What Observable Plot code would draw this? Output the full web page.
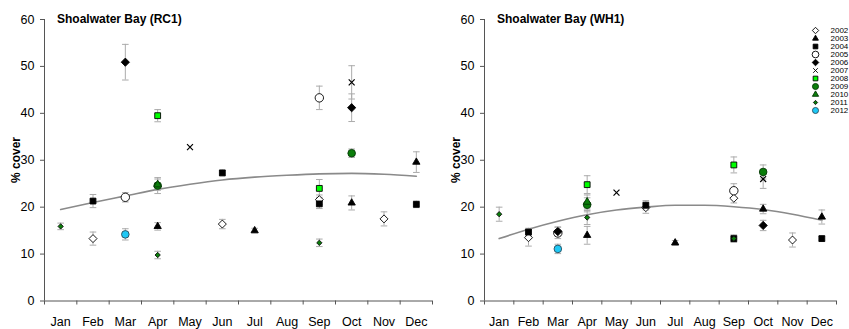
<!DOCTYPE html>
<html>
<head>
<meta charset="utf-8">
<script src="https://cdn.jsdelivr.net/npm/d3@7"></script>
<script src="https://cdn.jsdelivr.net/npm/@observablehq/plot@0.6"></script>
<style>
  html, body { margin: 0; padding: 0; background: #fff; overflow: hidden; }
  #wrap { position: relative; width: 849px; height: 329px; overflow: hidden; font-family: "Liberation Sans", Arial, sans-serif; }
  #wrap svg { position: absolute; top: 0; overflow: visible; }
  .title { position: absolute; top: 12px; font-weight: bold; font-size: 12px; color: #000; white-space: nowrap; }
  .ylab { position: absolute; font-weight: bold; font-size: 12px; color: #000; white-space: nowrap;
          transform: translate(-50%, -50%) rotate(-90deg); }
</style>
</head>
<body>
<div id="wrap">
  <div id="left"></div>
  <div id="right"></div>
  <div id="legend"></div>
  <div class="title" style="left:57px">Shoalwater Bay (RC1)</div>
  <div class="title" style="left:497px">Shoalwater Bay (WH1)</div>
  <div class="ylab" style="left:16px; top:160px">% cover</div>
  <div class="ylab" style="left:456px; top:160px">% cover</div>
</div>
<script>
// ---------- data ----------
const months = ["Jan","Feb","Mar","Apr","May","Jun","Jul","Aug","Sep","Oct","Nov","Dec"];
const years = ["2002","2003","2004","2005","2006","2007","2008","2009","2010","2011","2012"];
const yTicks = [0, 10, 20, 30, 40, 50, 60];

// [year, month, mean % cover, error]
const rc1 = [
  ["2011","Jan",15.9,0.7],
  ["2004","Feb",21.3,1.4], ["2002","Feb",13.3,1.4],
  ["2006","Mar",50.9,3.8], ["2005","Mar",22.1,1.0], ["2012","Mar",14.2,1.2],
  ["2008","Apr",39.5,1.3], ["2009","Apr",24.6,1.7], ["2010","Apr",24.8,1.2], ["2003","Apr",15.9,0.8], ["2011","Apr",9.8,0.8],
  ["2007","May",32.8,0],
  ["2004","Jun",27.3,0.6], ["2002","Jun",16.4,1.0],
  ["2003","Jul",15.0,0.5],
  ["2005","Sep",43.3,2.5], ["2008","Sep",24.0,1.9], ["2002","Sep",21.6,1.0], ["2004","Sep",20.7,1.0], ["2011","Sep",12.4,0.8],
  ["2007","Oct",46.6,3.55], ["2006","Oct",41.2,2.95], ["2009","Oct",31.5,0.9], ["2003","Oct",20.9,1.5],
  ["2002","Nov",17.5,1.5],
  ["2003","Dec",29.6,2.2], ["2004","Dec",20.6,0.7]
];
const wh1 = [
  ["2011","Jan",18.5,1.5],
  ["2004","Feb",14.7,0.8], ["2002","Feb",13.5,1.8],
  ["2005","Mar",14.5,1.2], ["2006","Mar",14.8,1.0], ["2012","Mar",11.1,1.0],
  ["2008","Apr",24.8,1.9], ["2009","Apr",20.5,1.5], ["2010","Apr",21.1,1.5], ["2011","Apr",17.8,1.5], ["2003","Apr",14.0,1.9],
  ["2007","May",23.1,0],
  ["2004","Jun",20.4,1.0], ["2002","Jun",19.9,1.2],
  ["2003","Jul",12.4,0.5],
  ["2008","Sep",29.0,1.7], ["2005","Sep",23.5,1.5], ["2002","Sep",21.9,1.0], ["2004","Sep",13.3,0.8], ["2011","Sep",13.3,0.6],
  ["2009","Oct",27.5,1.5], ["2007","Oct",26.0,2.0], ["2003","Oct",19.6,1.0], ["2006","Oct",16.1,1.1],
  ["2002","Nov",13.0,1.5],
  ["2003","Dec",17.9,1.5], ["2004","Dec",13.3,0.5]
];
// seasonal trend line, one value per month
const rc1Trend = [19.5, 21.0, 22.4, 23.8, 24.9, 25.8, 26.4, 26.8, 27.1, 27.2, 27.0, 26.6];
const wh1Trend = [13.3, 15.3, 17.0, 18.4, 19.4, 20.0, 20.4, 20.4, 20.1, 19.5, 18.5, 17.2];

// ---------- styles ----------
const DG = "#0a7d0a";
const style = {
  "2002": {symbol: "diamond2", fill: "white",   stroke: "black",   r: 3.6},
  "2003": {symbol: "triangle", fill: "black",   stroke: "black",   r: 2.7},
  "2004": {symbol: "square",   fill: "black",   stroke: "black",   r: 3.3},
  "2005": {symbol: "circle",   fill: "white",   stroke: "black",   r: 4.2},
  "2006": {symbol: "diamond2", fill: "black",   stroke: "black",   r: 3.7},
  "2007": {symbol: "times",    fill: "none",    stroke: "black",   r: 2.8},
  "2008": {symbol: "square",   fill: "#00ff00", stroke: "black",   r: 3.3},
  "2009": {symbol: "circle",   fill: DG,        stroke: "#063806", r: 3.8},
  "2010": {symbol: "triangle", fill: DG,        stroke: "#063806", r: 2.9},
  "2011": {symbol: "diamond2", fill: DG,        stroke: "#111",    r: 2.4},
  "2012": {symbol: "circle",   fill: "#1ec8f5", stroke: "#2a4a5a", r: 3.8}
};
const capSymbol = { draw(ctx, size) { const w = Math.sqrt(size / Math.PI); ctx.moveTo(-w, 0); ctx.lineTo(w, 0); } };
const mi = d => months.indexOf(d[1]) + 1;
const bounds = months.map((m, i) => i + 0.5).concat([months.length + 0.5]);
const AX = "#555";

function panel(data, trend, width, marginRight) {
  const withErr = data.filter(d => d[3] > 0);
  const marks = [
    Plot.ruleX([0.5], {stroke: AX}),
    Plot.ruleY([0], {stroke: AX}),
    Plot.axisY({ticks: yTicks, tickSize: 4, tickPadding: 6, label: null, stroke: AX, fill: "black", fontSize: 12.5}),
    Plot.axisX({ticks: bounds, tickSize: 4, tickFormat: () => "", label: null, stroke: AX}),
    Plot.axisX({ticks: months.map((m, i) => i + 1), tickSize: 0, tickPadding: 16, tickFormat: i => months[i - 1], label: null, fill: "black", fontSize: 12.5}),
    Plot.line(trend, {x: (d, i) => i + 1, y: d => d, curve: "monotone-x", stroke: "#8a8a8a", strokeWidth: 1.6}),
    Plot.ruleX(withErr, {x: mi, y1: d => d[2] - d[3], y2: d => d[2] + d[3], stroke: "#ababab", strokeWidth: 1}),
    Plot.dot(withErr, {x: mi, y: d => d[2] - d[3], symbol: capSymbol, r: 3.3, fill: "none", stroke: "#ababab", strokeWidth: 1}),
    Plot.dot(withErr, {x: mi, y: d => d[2] + d[3], symbol: capSymbol, r: 3.3, fill: "none", stroke: "#ababab", strokeWidth: 1})
  ];
  for (const y of years) {
    const s = style[y];
    marks.push(Plot.dot(data.filter(d => d[0] === y), {
      x: mi, y: d => d[2], symbol: s.symbol, r: s.r, fill: s.fill, stroke: s.stroke,
      strokeWidth: y === "2007" ? 1.2 : 0.9
    }));
  }
  return Plot.plot({
    width, height: 329,
    marginLeft: 44, marginRight, marginTop: 19, marginBottom: 28.5,
    x: {domain: [0.5, 12.5]},
    y: {domain: [0, 60]},
    style: {fontFamily: '"Liberation Sans", Arial, sans-serif', fontSize: "12.5px", background: "white"},
    marks
  });
}

const left = panel(rc1, rc1Trend, 440, 8);
left.style.left = "0px";
document.getElementById("left").appendChild(left);

const right = panel(wh1, wh1Trend, 409, 13);
right.style.left = "440px";
right.style.background = "transparent";
document.getElementById("right").appendChild(right);

// legend
const legMarks = [];
for (const y of years) {
  const s = style[y];
  legMarks.push(Plot.dot([y], {y: d => d, frameAnchor: "left", dx: 15, symbol: s.symbol, r: s.r * 0.8,
    fill: s.fill, stroke: s.stroke, strokeWidth: 0.9}));
}
legMarks.push(Plot.text(years, {y: d => d, text: d => d, frameAnchor: "left", dx: 30, textAnchor: "start", fill: "black"}));
const legend = Plot.plot({
  width: 60, height: 130, marginLeft: 0, marginRight: 0, marginTop: 22.7, marginBottom: 13.3,
  y: {type: "point", domain: years, axis: null},
  style: {fontFamily: '"Liberation Sans", Arial, sans-serif', fontSize: "8px", background: "transparent"},
  marks: legMarks
});
legend.style.left = "800px";
document.getElementById("legend").appendChild(legend);
</script>
</body>
</html>
